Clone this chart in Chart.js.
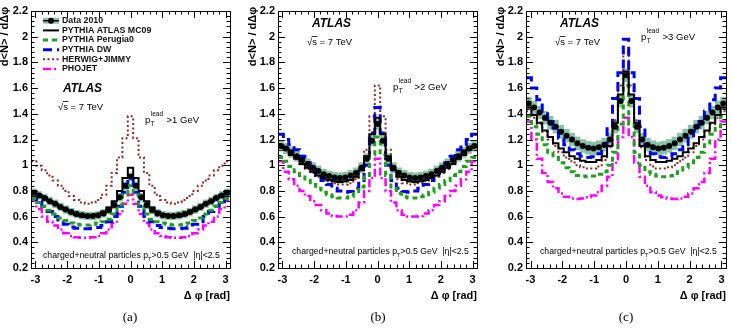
<!DOCTYPE html>
<html>
<head>
<meta charset="utf-8">
<script src="https://cdn.jsdelivr.net/npm/chart.js@4.4.0/dist/chart.umd.min.js"></script>
<style>
  body { margin: 0; background: #fff; }
  #wrap { position: relative; width: 732px; height: 328px; }
  canvas { position: absolute; top: 0; }
</style>
</head>
<body>
<div id="wrap">
  <canvas id="pa" width="245" height="328" style="left:0px"></canvas>
  <canvas id="pb" width="243" height="328" style="left:245px"></canvas>
  <canvas id="pc" width="244" height="328" style="left:488px"></canvas>
</div>
<script>
// axis ticks
const xTickVals = [-3, -2, -1, 0, 1, 2, 3];
const yTickVals = [0.2, 0.4, 0.6, 0.8, 1.0, 1.2, 1.4, 1.6, 1.8, 2.0, 2.2];
const nBins = 37;

// panel (a) p_T lead > 1 GeV
const dataA = [0.785,0.765,0.745,0.72,0.70,0.675,0.655,0.635,0.62,0.61,0.605,0.605,0.61,0.625,0.65,0.69,0.75,0.84,0.91,0.84,0.75,0.69,0.65,0.625,0.61,0.605,0.605,0.61,0.62,0.635,0.655,0.675,0.70,0.72,0.745,0.765,0.785];
const mc09A = [0.80,0.77,0.75,0.72,0.70,0.67,0.65,0.63,0.61,0.60,0.60,0.61,0.62,0.64,0.67,0.72,0.80,0.90,0.98,0.90,0.80,0.72,0.67,0.64,0.62,0.61,0.60,0.60,0.61,0.63,0.65,0.67,0.70,0.72,0.75,0.77,0.80];
const perA  = [0.74,0.71,0.68,0.65,0.62,0.59,0.57,0.55,0.54,0.535,0.535,0.54,0.55,0.56,0.58,0.62,0.69,0.77,0.84,0.77,0.69,0.62,0.58,0.56,0.55,0.54,0.535,0.535,0.54,0.55,0.57,0.59,0.62,0.65,0.68,0.71,0.74];
const dwA   = [0.75,0.72,0.68,0.64,0.60,0.56,0.54,0.52,0.51,0.505,0.505,0.51,0.515,0.53,0.56,0.60,0.68,0.79,0.89,0.79,0.68,0.60,0.56,0.53,0.515,0.51,0.505,0.505,0.51,0.52,0.54,0.56,0.60,0.64,0.68,0.72,0.75];
const hwA   = [1.03,0.995,0.96,0.92,0.88,0.84,0.80,0.76,0.73,0.71,0.70,0.71,0.73,0.77,0.84,0.94,1.06,1.21,1.38,1.21,1.06,0.94,0.84,0.77,0.73,0.71,0.70,0.71,0.73,0.76,0.80,0.84,0.88,0.92,0.96,0.995,1.03];
const phA   = [0.73,0.66,0.60,0.56,0.53,0.50,0.47,0.45,0.44,0.435,0.435,0.44,0.45,0.47,0.50,0.55,0.62,0.70,0.77,0.70,0.62,0.55,0.50,0.47,0.45,0.44,0.435,0.435,0.44,0.45,0.47,0.50,0.53,0.56,0.60,0.66,0.73];

// panel (b) p_T lead > 2 GeV
const dataB = [1.15,1.13,1.10,1.07,1.04,1.01,0.98,0.955,0.93,0.915,0.905,0.90,0.905,0.92,0.94,0.98,1.05,1.19,1.32,1.19,1.05,0.98,0.94,0.92,0.905,0.90,0.905,0.915,0.93,0.955,0.98,1.01,1.04,1.07,1.10,1.13,1.15];
const mc09B = [1.15,1.12,1.08,1.05,1.01,0.98,0.95,0.92,0.90,0.885,0.875,0.87,0.875,0.885,0.91,0.96,1.07,1.24,1.37,1.24,1.07,0.96,0.91,0.885,0.875,0.87,0.875,0.885,0.90,0.92,0.95,0.98,1.01,1.05,1.08,1.12,1.15];
const perB  = [1.06,1.03,0.99,0.95,0.92,0.88,0.85,0.82,0.79,0.77,0.755,0.745,0.745,0.755,0.78,0.83,0.92,1.08,1.22,1.08,0.92,0.83,0.78,0.755,0.745,0.745,0.755,0.77,0.79,0.82,0.85,0.88,0.92,0.95,0.99,1.03,1.06];
const dwB   = [1.24,1.20,1.16,1.12,1.07,1.02,0.97,0.92,0.88,0.85,0.82,0.80,0.79,0.795,0.82,0.88,1.00,1.25,1.45,1.25,1.00,0.88,0.82,0.795,0.79,0.80,0.82,0.85,0.88,0.92,0.97,1.02,1.07,1.12,1.16,1.20,1.24];
const hwB   = [1.16,1.13,1.09,1.05,1.01,0.97,0.94,0.91,0.89,0.875,0.86,0.85,0.85,0.86,0.89,0.96,1.12,1.38,1.62,1.38,1.12,0.96,0.89,0.86,0.85,0.85,0.86,0.875,0.89,0.91,0.94,0.97,1.01,1.05,1.09,1.13,1.16];
const phB   = [1.03,0.95,0.89,0.84,0.80,0.76,0.72,0.69,0.65,0.625,0.605,0.60,0.60,0.615,0.65,0.71,0.80,0.90,1.05,0.90,0.80,0.71,0.65,0.615,0.60,0.60,0.605,0.625,0.65,0.69,0.72,0.76,0.80,0.84,0.89,0.95,1.03];

// panel (c) p_T lead > 3 GeV
const dataC = [1.48,1.45,1.41,1.37,1.33,1.30,1.26,1.23,1.20,1.17,1.15,1.135,1.13,1.14,1.16,1.20,1.30,1.50,1.70,1.50,1.30,1.20,1.16,1.14,1.13,1.135,1.15,1.17,1.20,1.23,1.26,1.30,1.33,1.37,1.41,1.45,1.48];
const mc09C = [1.45,1.39,1.33,1.27,1.22,1.17,1.13,1.10,1.07,1.05,1.035,1.025,1.025,1.04,1.07,1.15,1.33,1.55,1.73,1.55,1.33,1.15,1.07,1.04,1.025,1.025,1.035,1.05,1.07,1.10,1.13,1.17,1.22,1.27,1.33,1.39,1.45];
const perC  = [1.38,1.30,1.24,1.16,1.10,1.06,1.02,0.98,0.95,0.92,0.915,0.91,0.915,0.93,0.95,1.00,1.10,1.32,1.62,1.32,1.10,1.00,0.95,0.93,0.915,0.91,0.915,0.92,0.95,0.98,1.02,1.06,1.10,1.16,1.24,1.30,1.38];
const dwC   = [1.68,1.60,1.51,1.42,1.34,1.27,1.21,1.16,1.12,1.09,1.07,1.06,1.065,1.09,1.15,1.30,1.52,1.72,1.98,1.72,1.52,1.30,1.15,1.09,1.065,1.06,1.07,1.09,1.12,1.16,1.21,1.27,1.34,1.42,1.51,1.60,1.68];
const hwC   = [1.42,1.37,1.32,1.26,1.20,1.15,1.10,1.06,1.03,1.00,0.985,0.975,0.975,0.99,1.04,1.14,1.35,1.62,1.88,1.62,1.35,1.14,1.04,0.99,0.975,0.975,0.985,1.00,1.03,1.06,1.10,1.15,1.20,1.26,1.32,1.37,1.42];
const phC   = [1.34,1.20,1.05,0.94,0.87,0.82,0.78,0.755,0.74,0.737,0.74,0.75,0.765,0.79,0.84,0.91,1.02,1.22,1.37,1.22,1.02,0.91,0.84,0.79,0.765,0.75,0.74,0.737,0.74,0.755,0.78,0.82,0.87,0.94,1.05,1.20,1.34];

// systematic band half-height per panel
const bandErr = [0.03, 0.04, 0.05];

const legendLabels = ['Data 2010', 'PYTHIA ATLAS MC09', 'PYTHIA Perugia0', 'PYTHIA DW', 'HERWIG+JIMMY', 'PHOJET'];
const ptCuts = ['>1 GeV', '>2 GeV', '>3 GeV'];
const panelTags = ['(a)', '(b)', '(c)'];

const SANS = '"Liberation Sans", Arial, Helvetica, sans-serif';
const bandColor = 'rgba(108,180,146,0.8)';

const styles = [
  { color: '#000000', width: 2,   dash: [] },
  { color: '#1f9e1f', width: 3,   dash: [5, 4] },
  { color: '#0000f0', width: 3,   dash: [9, 5] },
  { color: '#8c2a2a', width: 2,   dash: [2, 2.5] },
  { color: '#ff00ff', width: 2.5, dash: [8, 3, 2, 3] }
];

const binW = 2 * Math.PI / nBins;
const centers = Array.from({ length: nBins }, (_, i) => -Math.PI + (i + 0.5) * binW);
const edges = Array.from({ length: nBins }, (_, i) => -Math.PI + i * binW);

// each value holds from its left edge to the next edge
function histPoints(vals) {
  const pts = vals.map((v, i) => ({ x: edges[i], y: v }));
  pts.push({ x: Math.PI, y: vals[vals.length - 1] });
  return pts;
}

function text(ctx, s, x, y, font, align, color) {
  ctx.font = font;
  ctx.textAlign = align || 'left';
  ctx.textBaseline = 'middle';
  ctx.fillStyle = color || '#000';
  ctx.fillText(s, x, y);
  return ctx.measureText(s).width;
}

function rootFrame(p, idx) {
  return {
    id: 'rootFrame' + idx,
    afterDatasetsDraw(chart) {
      const ctx = chart.ctx, a = chart.chartArea;
      const xs = chart.scales.x, ys = chart.scales.y;
      ctx.save();
      ctx.strokeStyle = '#000';
      ctx.lineWidth = 1;
      ctx.setLineDash([]);
      ctx.beginPath();
      for (let i = 0; i <= 50; i++) {
        const v = 0.2 + i * 0.04;
        const py = Math.round(ys.getPixelForValue(v)) + 0.5;
        const len = i % 5 === 0 ? 7 : 3.5;
        ctx.moveTo(a.left, py); ctx.lineTo(a.left + len, py);
        ctx.moveTo(a.right, py); ctx.lineTo(a.right - len, py);
      }
      for (let i = -15; i <= 15; i++) {
        const v = i * 0.2;
        const px = Math.round(xs.getPixelForValue(v)) + 0.5;
        const len = i % 5 === 0 ? 7 : 3.5;
        ctx.moveTo(px, a.bottom); ctx.lineTo(px, a.bottom - len);
        ctx.moveTo(px, a.top); ctx.lineTo(px, a.top + len);
      }
      ctx.stroke();
      ctx.strokeRect(Math.round(a.left) + 0.5, Math.round(a.top) + 0.5,
        Math.round(a.right - a.left), Math.round(a.bottom - a.top));
      ctx.restore();
    },
    afterDraw(chart) {
      const ctx = chart.ctx, a = chart.chartArea;
      ctx.save();
      // y title
      ctx.save();
      ctx.translate(p.yTitleX, 7);
      ctx.rotate(-Math.PI / 2);
      text(ctx, 'd<N> / dΔφ', 0, 0, 'bold 11px ' + SANS, 'right');
      ctx.restore();

      text(ctx, 'ATLAS', p.atlas[0], p.atlas[1], 'italic bold 12px ' + SANS);

      // sqrt(s) = 7 TeV
      ctx.font = '9.5px ' + SANS;
      const w1 = ctx.measureText('√').width, w2 = ctx.measureText('s').width;
      text(ctx, '√s = 7 TeV', p.sqrts[0], p.sqrts[1], '9.5px ' + SANS);
      ctx.strokeStyle = '#000'; ctx.lineWidth = 0.8;
      ctx.beginPath();
      ctx.moveTo(p.sqrts[0] + w1 - 0.5, p.sqrts[1] - 5.5);
      ctx.lineTo(p.sqrts[0] + w1 + w2 + 0.5, p.sqrts[1] - 5.5);
      ctx.stroke();

      // p_T^lead cut
      let x = p.lead[0], y = p.lead[1];
      const pw = text(ctx, 'p', x, y, '9.5px ' + SANS);
      const lw = text(ctx, 'lead', x + pw + 0.5, y - 6, '6.5px ' + SANS);
      text(ctx, 'T', x + pw + 0.5, y + 4, '6.5px ' + SANS);
      text(ctx, p.cut, x + pw + lw + 4, y, '9.5px ' + SANS);

      // particle selection
      x = p.sel[0]; y = p.sel[1];
      let w = text(ctx, 'charged+neutral particles p', x, y, '8.7px ' + SANS);
      const tw = text(ctx, 'T', x + w, y + 3.5, '5.8px ' + SANS);
      text(ctx, '>0.5 GeV  |η|<2.5', x + w + tw, y, '8.7px ' + SANS);

      text(ctx, 'Δ φ [rad]', a.right, 296, 'bold 11px ' + SANS, 'right');
      text(ctx, p.tag, p.tagX, 318, '13px "Liberation Serif", "DejaVu Serif", serif', 'center');

      if (p.legend) {
        const ly = [20.7, 30.4, 40, 49.7, 59.3, 69];
        for (let i = 0; i < legendLabels.length; i++) {
          const yy = ly[i];
          if (i === 0) {
            ctx.fillStyle = bandColor;
            ctx.fillRect(43, yy - 3, 16, 6);
            ctx.strokeStyle = '#000'; ctx.lineWidth = 1.5; ctx.setLineDash([]);
            ctx.beginPath(); ctx.moveTo(43, yy); ctx.lineTo(59, yy); ctx.stroke();
            ctx.fillStyle = '#000';
            ctx.beginPath(); ctx.arc(51, yy, 3, 0, 2 * Math.PI); ctx.fill();
          } else {
            const st = styles[i - 1];
            ctx.strokeStyle = st.color; ctx.lineWidth = st.width; ctx.setLineDash(st.dash);
            ctx.beginPath(); ctx.moveTo(43, yy); ctx.lineTo(59, yy); ctx.stroke();
            ctx.setLineDash([]);
          }
          text(ctx, legendLabels[i], 62, yy, 'bold 8.8px ' + SANS, 'left', '#111');
        }
      }
      ctx.restore();
    }
  };
}

function makePanel(p, idx) {
  const curves = [p.mc09, p.per, p.dw, p.hw, p.ph];
  const datasets = [];
  datasets.push({
    type: 'line', label: 'Data 2010',
    data: p.data.map((v, i) => ({ x: centers[i], y: v })),
    showLine: false, pointRadius: 3, pointHoverRadius: 3,
    pointBackgroundColor: '#000', pointBorderColor: '#000', pointBorderWidth: 0,
    order: 1
  });
  curves.forEach((c, i) => {
    datasets.push({
      type: 'line', label: legendLabels[i + 1],
      data: histPoints(c), stepped: 'before',
      borderColor: styles[i].color, borderWidth: styles[i].width,
      borderDash: styles[i].dash, borderCapStyle: 'butt',
      pointRadius: 0, fill: false, order: 2 + i
    });
  });
  datasets.push({
    type: 'bar', label: 'band',
    data: p.data.map((v, i) => ({ x: centers[i], y: [v - p.err, v + p.err] })),
    backgroundColor: bandColor, borderWidth: 0,
    barPercentage: 1, categoryPercentage: 1, grouped: false, order: 20
  });

  new Chart(document.getElementById(p.id), {
    type: 'line',
    data: { datasets },
    options: {
      responsive: false, animation: false, devicePixelRatio: 1,
      layout: { padding: { left: 0, right: p.padR, top: 11, bottom: 0 } },
      plugins: { legend: { display: false }, tooltip: { enabled: false } },
      scales: {
        x: {
          type: 'linear', min: -Math.PI, max: Math.PI, offset: false,
          grid: { display: false, drawTicks: false }, border: { display: false },
          afterBuildTicks: s => { s.ticks = xTickVals.map(v => ({ value: v })); },
          afterFit: s => { s.height = 60; },
          ticks: { padding: 5, color: '#000', font: { family: SANS, size: 11, weight: 'bold' }, maxRotation: 0,
            callback: v => String(v) }
        },
        y: {
          type: 'linear', min: 0.2, max: 2.2,
          grid: { display: false, drawTicks: false }, border: { display: false },
          afterBuildTicks: s => { s.ticks = yTickVals.map(v => ({ value: v })); },
          afterFit: s => { s.width = p.yw; },
          ticks: { padding: 3, color: '#000', font: { family: SANS, size: 11, weight: 'bold' },
            callback: v => String(+v.toFixed(1)) }
        }
      }
    },
    plugins: [rootFrame(p, idx)]
  });
}

const panels = [
  { id: 'pa', yw: 31, padR: 15, data: dataA, mc09: mc09A, per: perA, dw: dwA, hw: hwA, ph: phA, err: bandErr[0],
    cut: ptCuts[0], tag: panelTags[0], tagX: 130, yTitleX: 5, legend: true,
    atlas: [63, 89], sqrts: [58, 107], lead: [145, 120], sel: [43, 256] },
  { id: 'pb', yw: 33, padR: 11, data: dataB, mc09: mc09B, per: perB, dw: dwB, hw: hwB, ph: phB, err: bandErr[1],
    cut: ptCuts[1], tag: panelTags[1], tagX: 133, yTitleX: 8, legend: false,
    atlas: [67, 24], sqrts: [62, 42], lead: [148, 87], sel: [47, 252] },
  { id: 'pc', yw: 38, padR: 6, data: dataC, mc09: mc09C, per: perC, dw: dwC, hw: hwC, ph: phC, err: bandErr[2],
    cut: ptCuts[2], tag: panelTags[2], tagX: 138, yTitleX: 13, legend: false,
    atlas: [72, 24], sqrts: [67, 42], lead: [153, 37], sel: [52, 252] }
];

panels.forEach(makePanel);
</script>
</body>
</html>
